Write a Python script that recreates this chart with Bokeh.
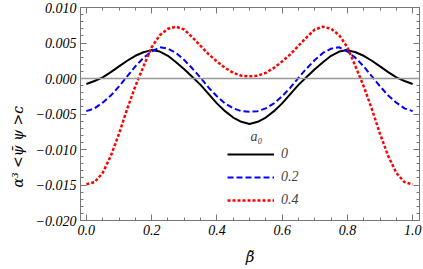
import math
from bokeh.plotting import figure
from bokeh.models import (LinearAxis, Range1d, Span, Label, Title, CustomJSTickFormatter)
from bokeh.embed import file_html
from bokeh.resources import INLINE

beta = [0.0, 0.025, 0.05, 0.075, 0.1, 0.125, 0.15, 0.175, 0.2, 0.225, 0.25,
        0.275, 0.3, 0.325, 0.35, 0.375, 0.4, 0.425, 0.45, 0.475, 0.5,
        0.525, 0.55, 0.575, 0.6, 0.625, 0.65, 0.675, 0.7, 0.725, 0.75,
        0.775, 0.8, 0.825, 0.85, 0.875, 0.9, 0.925, 0.95, 0.975, 1.0]

a0_0 = [-0.00077, -0.00035, 0.00015, 0.0009, 0.0017, 0.0025, 0.0032, 0.0037, 0.0040, 0.0038, 0.0032,
        0.0023, 0.0013, 0.0002, -0.0009, -0.0022, -0.0035, -0.0046, -0.0055, -0.0061, -0.0064,
        -0.0061, -0.0055, -0.0046, -0.0035, -0.0022, -0.0009, 0.0002, 0.0013, 0.0023, 0.0032,
        0.0038, 0.0040, 0.0037, 0.0032, 0.0025, 0.0017, 0.0009, 0.00015, -0.00035, -0.00077]

a0_02 = [-0.0046, -0.0042, -0.0034, -0.0024, -0.0011, 0.0003, 0.0017, 0.0029, 0.0038, 0.0044, 0.0042,
         0.0036, 0.0026, 0.0014, 0.0001, -0.0013, -0.0025, -0.0035, -0.0042, -0.0046, -0.0047,
         -0.0046, -0.0042, -0.0035, -0.0025, -0.0013, 0.0001, 0.0014, 0.0026, 0.0036, 0.0042,
         0.0044, 0.0038, 0.0029, 0.0017, 0.0003, -0.0011, -0.0024, -0.0034, -0.0042, -0.0046]

a0_04 = [-0.0149, -0.0146, -0.0133, -0.0109, -0.0078, -0.0043, -0.0011, 0.0017, 0.0044, 0.0061, 0.0070,
         0.0073, 0.0069, 0.0058, 0.0046, 0.0034, 0.0024, 0.0015, 0.0008, 0.0004, 0.0003,
         0.0004, 0.0008, 0.0015, 0.0024, 0.0034, 0.0046, 0.0058, 0.0069, 0.0073, 0.0070,
         0.0061, 0.0044, 0.0017, -0.0011, -0.0043, -0.0078, -0.0109, -0.0133, -0.0146, -0.0149]

series_labels = ["0", "0.2", "0.4"]
x_ticks = [0.0, 0.2, 0.4, 0.6, 0.8, 1.0]
y_ticks = [-0.020, -0.015, -0.010, -0.005, 0.000, 0.005, 0.010]
x_minor = [0.05, 0.1, 0.15, 0.25, 0.3, 0.35, 0.45, 0.5, 0.55, 0.65, 0.7, 0.75, 0.85, 0.9, 0.95]
y_minor = [-0.019, -0.018, -0.017, -0.016, -0.014, -0.013, -0.012, -0.011,
           -0.009, -0.008, -0.007, -0.006, -0.004, -0.003, -0.002, -0.001,
           0.001, 0.002, 0.003, 0.004, 0.006, 0.007, 0.008, 0.009]

SERIF = "Liberation Serif"
LABEL_FONT = "DejaVu Serif"
FRAME = "#777777"

p = figure(width=423, height=269, output_backend="svg", toolbar_location=None,
           x_range=Range1d(-0.018, 1.021), y_range=Range1d(-0.020, 0.010),
           min_border_left=76, min_border_right=4, min_border_top=7, min_border_bottom=49,
           background_fill_color="white", border_fill_color="white",
           outline_line_color=FRAME)
p.grid.visible = False

xfmt = CustomJSTickFormatter(code="return tick.toFixed(1);")
yfmt = CustomJSTickFormatter(code="var s = Math.abs(tick).toFixed(3); return (tick < -1e-9 ? '\u2212' : '') + s;")
nofmt = CustomJSTickFormatter(code="return '';")

def style_axis(ax, show_labels):
    ax.axis_line_color = FRAME
    ax.major_tick_line_color = FRAME
    ax.minor_tick_line_color = FRAME
    ax.major_tick_in = 6
    ax.major_tick_out = 0
    ax.minor_tick_in = 3
    ax.minor_tick_out = 0
    ax.major_label_text_font = SERIF
    ax.major_label_text_font_style = "italic"
    ax.major_label_text_font_size = "14px"
    ax.major_label_text_color = "black"
    ax.major_label_standoff = 4 if show_labels else 0
    ax.axis_label_text_font = LABEL_FONT
    ax.axis_label_text_font_style = "italic"
    ax.axis_label_text_font_size = "15px"
    ax.axis_label_text_color = "black"

p.xaxis.ticker = x_ticks
p.xaxis.formatter = xfmt
p.yaxis.ticker = y_ticks
p.yaxis.formatter = yfmt
p.xaxis[0].ticker.minor_ticks = x_minor
p.yaxis[0].ticker.minor_ticks = y_minor
style_axis(p.xaxis[0], True)
style_axis(p.yaxis[0], True)
p.xaxis[0].axis_label = "\u03b2\u0303"
p.xaxis[0].axis_label_standoff = 10

# y-axis title, starting from the lower part of the frame like the reference
ytitle = Title(text="\u03b1\u00b3 <\u03c8\u0304 \u03c8 >\u1d04", align="left", offset=33,
               text_font=LABEL_FONT, text_font_style="italic", text_font_size="14px",
               text_color="black", standoff=14)
p.add_layout(ytitle, "left")

top = LinearAxis(ticker=x_ticks, formatter=nofmt)
top.ticker.minor_ticks = x_minor
style_axis(top, False)
right = LinearAxis(ticker=y_ticks, formatter=nofmt)
right.ticker.minor_ticks = y_minor
style_axis(right, False)
p.add_layout(top, "above")
p.add_layout(right, "right")

p.add_layout(Span(location=0, dimension="width", line_color="#999999", line_width=1.5))

p.line(beta, a0_0, line_color="black", line_width=2, legend_label=series_labels[0])
p.line(beta, a0_02, line_color="#0000ff", line_width=2, line_dash="6 3", legend_label=series_labels[1])
p.line(beta, a0_04, line_color="#ff0000", line_width=2.5, line_dash="3 2", legend_label=series_labels[2])

lg = p.legend[0]
lg.location = (147, 10)
lg.padding = 0
lg.margin = 0
lg.spacing = 3
lg.glyph_width = 47
lg.glyph_height = 20
lg.label_height = 20
lg.label_standoff = 7
lg.border_line_color = None
lg.background_fill_alpha = 0
lg.label_text_font = SERIF
lg.label_text_font_style = "italic"
lg.label_text_font_size = "14px"

p.add_layout(Label(x=0.521, y=-0.0082, text="a\u2080", text_font=SERIF, text_font_style="italic",
                   text_font_size="14px", text_align="center", text_baseline="middle"))

open("out.html", "w").write(file_html(p, INLINE))
